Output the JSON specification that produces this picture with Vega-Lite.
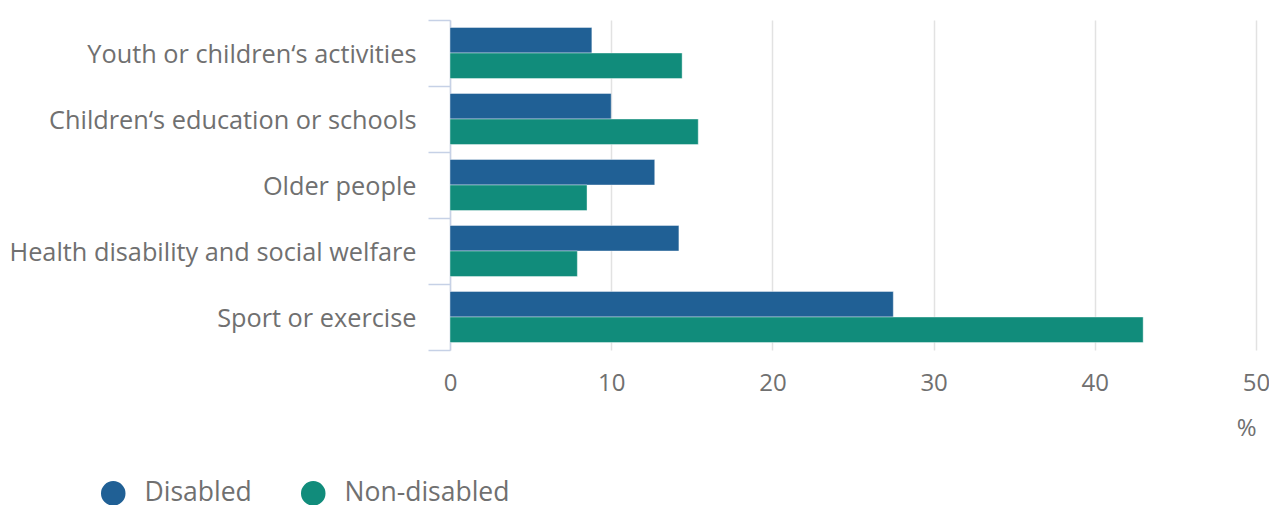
{
  "$schema": "https://vega.github.io/schema/vega-lite/v6.json",
  "width": 806,
  "height": 330,
  "autosize": {"type": "none"},
  "padding": {"left": 450, "top": 20, "right": 13, "bottom": 155},
  "background": "white",
  "config": {
    "font": "Open Sans",
    "view": {"stroke": null}
  },
  "data": {
    "values": [
      {"cat": "Youth or children‘s activities", "group": "Disabled", "value": 8.8},
      {"cat": "Youth or children‘s activities", "group": "Non-disabled", "value": 14.4},
      {"cat": "Children‘s education or schools", "group": "Disabled", "value": 10.0},
      {"cat": "Children‘s education or schools", "group": "Non-disabled", "value": 15.4},
      {"cat": "Older people", "group": "Disabled", "value": 12.7},
      {"cat": "Older people", "group": "Non-disabled", "value": 8.5},
      {"cat": "Health disability and social welfare", "group": "Disabled", "value": 14.2},
      {"cat": "Health disability and social welfare", "group": "Non-disabled", "value": 7.9},
      {"cat": "Sport or exercise", "group": "Disabled", "value": 27.5},
      {"cat": "Sport or exercise", "group": "Non-disabled", "value": 43.0}
    ]
  },
  "mark": {"type": "bar", "stroke": "#ffffff", "strokeOpacity": 0.4, "strokeWidth": 1},
  "encoding": {
    "y": {
      "field": "cat",
      "type": "nominal",
      "sort": null,
      "scale": {"paddingInner": 0, "paddingOuter": 0},
      "axis": {
        "title": null,
        "domainColor": "#c6d1e6",
        "domainWidth": 1.5,
        "tickColor": "#c6d1e6",
        "tickWidth": 1.5,
        "tickSize": 22,
        "tickBand": "extent",
        "labelFontSize": 25.3,
        "labelColor": "#707070",
        "labelPadding": 12,
        "labelLimit": 500,
        "labelBaseline": "middle",
        "labelOffset": 1
      }
    },
    "yOffset": {
      "field": "group",
      "type": "nominal",
      "scale": {"paddingInner": 0, "paddingOuter": 0.294}
    },
    "x": {
      "field": "value",
      "type": "quantitative",
      "scale": {"domain": [0, 50], "nice": false},
      "axis": {
        "title": "%",
        "values": [0, 10, 20, 30, 40, 50],
        "domain": false,
        "ticks": false,
        "grid": true,
        "gridColor": "#e2e2e2",
        "gridWidth": 1.5,
        "labelFlush": false,
        "labelFontSize": 24,
        "labelColor": "#707070",
        "labelPadding": 21,
        "titleFontSize": 24,
        "titleFontWeight": "normal",
        "titleColor": "#707070",
        "titleAnchor": "end",
        "titleAlign": "right",
        "titleX": 806,
        "titleY": 66,
        "titleBaseline": "top"
      }
    },
    "color": {
      "field": "group",
      "type": "nominal",
      "scale": {"domain": ["Disabled", "Non-disabled"], "range": ["#206095", "#118c7b"]},
      "legend": {
        "title": null,
        "orient": "none",
        "direction": "horizontal",
        "legendX": -350,
        "legendY": 460,
        "symbolType": "circle",
        "symbolSize": 600,
        "symbolStrokeWidth": 0,
        "symbolOpacity": 1,
        "labelFontSize": 26.5,
        "labelColor": "#707070",
        "labelOffset": 18,
        "labelLimit": 400,
        "columnPadding": 48
      }
    }
  }
}
